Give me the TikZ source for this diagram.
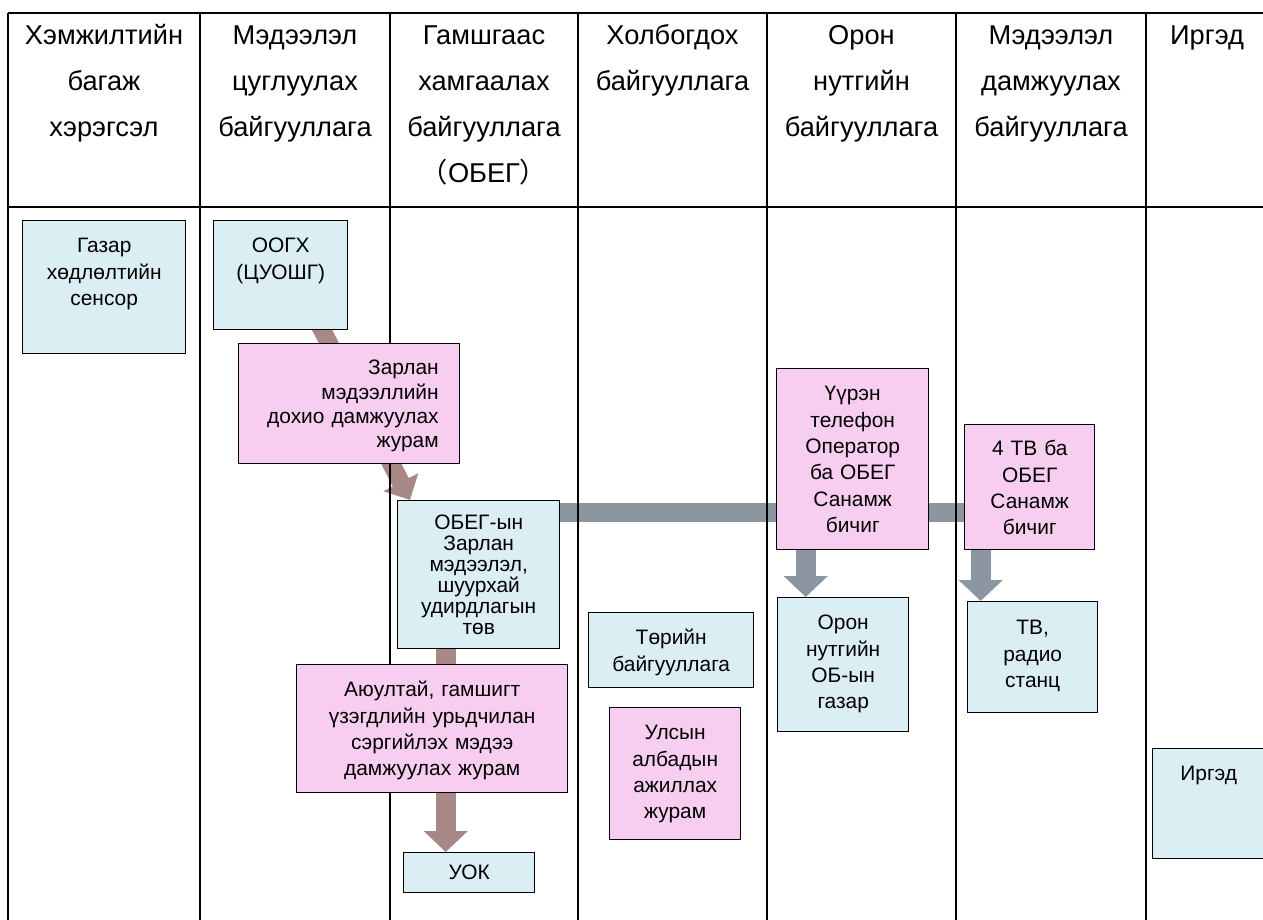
\documentclass[tikz,border=0pt]{standalone}
\usepackage{fontspec}
\setmainfont{Liberation Sans}
\newfontfamily\cjk{Noto Sans CJK SC}
\usetikzlibrary{arrows.meta,positioning}
\pgfdeclarelayer{bg}
\pgfdeclarelayer{mid}
\pgfsetlayers{bg,mid,main}
\definecolor{tsenherfill}{RGB}{218,238,243}
\definecolor{yagaanfill}{RGB}{248,206,240}
\definecolor{borcolor}{RGB}{168,136,134}
\definecolor{saaralcolor}{RGB}{140,150,160}

\begin{document}
\begin{tikzpicture}
			[tsenher/.style	={rectangle, draw=black, fill=tsenherfill, line width=0.8pt, inner sep=0pt, anchor=north west, align=center, text height=0.64cm, font=\fontsize{11.9pt}{15pt}\selectfont},
			yagaan/.style	={tsenher, fill=yagaanfill},
			tolgoi/.style	={anchor=north, inner sep=0pt, text width=3.6cm, align=center, text height=0.4cm, font=\fontsize{15.5pt}{26.3pt}\selectfont},
			bor/.style		={draw=borcolor, line width=0.4cm, -{Triangle[width=0.86cm,length=0.42cm]}},
			saaral/.style	={draw=saaralcolor, line width=0.4cm, -{Triangle[width=0.86cm,length=0.42cm]}},
			zuraas/.style	={line width=1.4pt}]
			\useasboundingbox (0,0) rectangle (25.26,-18.4);
			% baganiin garchig
			\node[tolgoi] (h1) at (2.08,-0.48)	{Хэмжилтийн\\багаж\\хэрэгсэл};
			\node[tolgoi] (h2) at (5.90,-0.48)	{Мэдээлэл\\цуглуулах\\байгууллага};
			\node[tolgoi] (h3) at (9.68,-0.48)	{Гамшгаас\\хамгаалах\\байгууллага\\{\cjk （}ОБЕГ{\cjk ）}};
			\node[tolgoi] (h4) at (13.45,-0.48)	{Холбогдох\\байгууллага};
			\node[tolgoi] (h5) at (17.23,-0.48)	{Орон\\нутгийн\\байгууллага};
			\node[tolgoi] (h6) at (21.02,-0.48)	{Мэдээлэл\\дамжуулах\\байгууллага};
			\node[tolgoi] (h7) at (24.14,-0.48)	{Иргэд};
			% hairtsaguud
			\node[tsenher, text width=3.26cm, text depth=2.02cm]	(gaz) at (0.44,-4.40)	{Газар\\хөдлөлтийн\\сенсор};
			\node[tsenher, text width=2.68cm, text depth=1.54cm]	(oog) at (4.26,-4.40)	{ООГХ\\(ЦУОШГ)};
			\node[yagaan, text width=3.58cm, inner xsep=0.42cm, align=right, text height=0.62cm, text depth=1.78cm, font=\fontsize{11.9pt}{13.9pt}\selectfont]	(zar) at (4.76,-6.86)	{Зарлан\\мэдээллийн\\дохио дамжуулах\\журам};
			\node[tsenher, text width=3.24cm, text height=0.58cm, text depth=2.38cm, font=\fontsize{11.9pt}{11.9pt}\selectfont]	(obg) at (7.94,-10.0)	{ОБЕГ-ын\\Зарлан\\мэдээлэл,\\шуурхай\\удирдлагын\\төв};
			\node[yagaan, text width=5.42cm, text depth=1.92cm]	(ayu) at (5.92,-13.28)	{Аюултай, гамшигт\\үзэгдлийн урьдчилан\\сэргийлэх мэдээ\\дамжуулах журам};
			\node[tsenher, text width=2.62cm, text height=0.54cm, text depth=0.26cm]	(uok) at (8.06,-17.04)	{УОК};
			\node[tsenher, text width=3.30cm, text depth=0.86cm]	(tor) at (11.76,-12.24)	{Төрийн\\байгууллага};
			\node[yagaan, text width=2.62cm, text depth=2.0cm]	(uls) at (12.18,-14.14)	{Улсын\\албадын\\ажиллах\\журам};
			\node[yagaan, text width=3.04cm, text depth=2.98cm]	(uur) at (15.52,-7.36)	{Үүрэн\\телефон\\Оператор\\ба ОБЕГ\\Санамж\\бичиг};
			\node[yagaan, text width=2.60cm, text height=0.62cm, text depth=1.88cm]	(tv4) at (19.28,-8.48)	{4 ТВ ба\\ОБЕГ\\Санамж\\бичиг};
			\node[tsenher, text width=2.62cm, text depth=2.04cm]	(orn) at (15.54,-11.94)	{Орон\\нутгийн\\ОБ-ын\\газар};
			\node[tsenher, text width=2.60cm, text height=0.66cm, text depth=1.56cm]	(tvr) at (19.34,-12.02)	{ТВ,\\радио\\станц};
			\node[tsenher, text width=2.24cm, text depth=1.56cm]	(irg) at (23.04,-14.96)	{Иргэд};
			% husnegtiin zuraas
			\begin{pgfonlayer}{mid}
			\draw[zuraas] (0.16,-0.26) -- (25.4,-0.26);
			\draw[zuraas] (0.16,-4.14) -- (25.4,-4.14);
			\foreach \x in {0.16,4.0,7.8,11.56,15.34,19.12,22.92}
				\draw[zuraas] (\x,-0.26) -- (\x,-18.4);
			\end{pgfonlayer}
			% sumnuud
			\begin{pgfonlayer}{bg}
			\draw[bor, line width=0.36cm, -{Triangle[width=0.76cm,length=0.4cm]}] ([xshift=0.76cm,yshift=0.14cm]oog.south) -- ([xshift=0.26cm]obg.north west);
			\draw[bor] ([xshift=-0.66cm]obg.south) -- ([xshift=-0.66cm]obg.south |- uok.north);
			\draw[draw=saaralcolor, line width=0.38cm] ([yshift=-0.24cm]obg.north east) -- ([yshift=-0.24cm]obg.north east -| tv4.west);
			\draw[saaral] ([xshift=-0.94cm]uur.south) -- ([xshift=-0.94cm]uur.south |- orn.north);
			\draw[saaral] ([xshift=-0.98cm]tv4.south) -- ([xshift=-0.98cm]tv4.south |- tvr.north);
			\end{pgfonlayer}
		\end{tikzpicture}
\end{document}
